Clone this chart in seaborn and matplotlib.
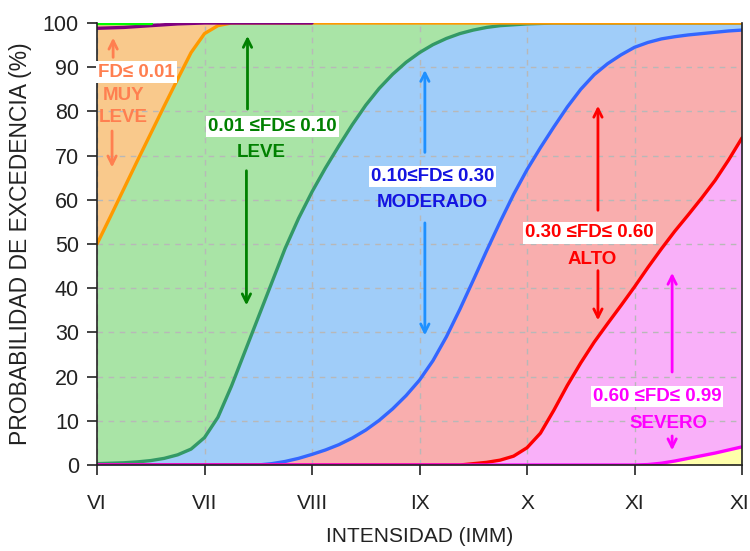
import numpy as np
import pandas as pd
import seaborn as sns
import matplotlib
matplotlib.use("Agg")
import matplotlib.pyplot as plt

# ---------------- data ----------------
intensity = [6.0, 6.125, 6.25, 6.375, 6.5, 6.625, 6.75, 6.875,
             7.0, 7.125, 7.25, 7.375, 7.5, 7.625, 7.75, 7.875,
             8.0, 8.125, 8.25, 8.375, 8.5, 8.625, 8.75, 8.875,
             9.0, 9.125, 9.25, 9.375, 9.5, 9.625, 9.75, 9.875,
             10.0, 10.125, 10.25, 10.375, 10.5, 10.625, 10.75, 10.875,
             11.0, 11.125, 11.25, 11.375, 11.5, 11.625, 11.75, 11.875, 12.0]
tick_labels = ["VI", "VII", "VIII", "IX", "X", "XI", "XII"]
tick_values = [6, 7, 8, 9, 10, 11, 12]

p_muy_leve = [50, 56.2, 62.5, 68.8, 75, 81.2, 87.3, 93.3,
              97.6, 99.4, 100, 100, 100, 100, 100, 100,
              100, 100, 100, 100, 100, 100, 100, 100,
              100, 100, 100, 100, 100, 100, 100, 100,
              100, 100, 100, 100, 100, 100, 100, 100,
              100, 100, 100, 100, 100, 100, 100, 100, 100]
p_leve = [0.3, 0.4, 0.5, 0.7, 1.0, 1.5, 2.3, 3.6,
          6.2, 10.8, 17.8, 25.6, 33.4, 41.2, 49.0, 55.8,
          61.8, 67.2, 72.2, 77.0, 81.4, 85.2, 88.4, 91.1,
          93.3, 95.1, 96.5, 97.6, 98.4, 99.0, 99.4, 99.6,
          99.8, 99.9, 100, 100, 100, 100, 100, 100,
          100, 100, 100, 100, 100, 100, 100, 100, 100]
p_moderado = [0, 0, 0, 0, 0, 0, 0, 0,
              0, 0, 0, 0, 0, 0.3, 0.8, 1.5,
              2.4, 3.4, 4.6, 6.1, 7.9, 10.1, 12.7, 15.7,
              19.2, 23.6, 29.0, 35.2, 41.8, 48.5, 55.0, 61.2,
              66.8, 71.8, 76.5, 81.0, 85.0, 88.3, 90.8, 92.8,
              94.5, 95.6, 96.4, 96.9, 97.3, 97.6, 97.9, 98.2, 98.4]
p_alto = [0, 0, 0, 0, 0, 0, 0, 0,
          0, 0, 0, 0, 0, 0, 0, 0,
          0, 0, 0, 0, 0, 0, 0, 0,
          0, 0, 0, 0, 0.3, 0.6, 1.1, 2.0,
          3.9, 7.2, 12.4, 18.0, 23.1, 27.8, 32.0, 36.1,
          40.3, 44.7, 48.9, 52.9, 56.6, 60.4, 64.4, 69.0, 74.0]
p_severo = [0, 0, 0, 0, 0, 0, 0, 0,
            0, 0, 0, 0, 0, 0, 0, 0,
            0, 0, 0, 0, 0, 0, 0, 0,
            0, 0, 0, 0, 0, 0, 0, 0,
            0, 0, 0, 0, 0, 0, 0, 0,
            0, 0.1, 0.4, 0.9, 1.5, 2.1, 2.7, 3.4, 4.1]
p_top_purple = [98.8, 98.9, 99.0, 99.2, 99.4, 99.6, 99.8, 99.9,
                100, 100, 100, 100, 100, 100, 100, 100, 100]
p_top_green = [100, 100, 100, 100, 100]

df = pd.DataFrame({"I": intensity, "muy": p_muy_leve, "leve": p_leve,
                   "mod": p_moderado, "alto": p_alto, "sev": p_severo})

# ---------------- style ----------------
sns.set_style("ticks")
plt.rcParams["font.family"] = ["Liberation Sans", "DejaVu Sans"]

fig = plt.figure(figsize=(7.5, 5.51), dpi=100)
ax = fig.add_axes([97 / 750, 86 / 551, 645 / 750, 442 / 551])

x = df["I"].values
fill_kw = dict(lw=0, zorder=1)
ax.fill_between(x, df["muy"], 100, color="#F9C98C", **fill_kw)
ax.fill_between(x, df["leve"], df["muy"], color="#A9E4A6", **fill_kw)
ax.fill_between(x, df["mod"], df["leve"], color="#A0CDF9", **fill_kw)
ax.fill_between(x, df["alto"], df["mod"], color="#F9AEAE", **fill_kw)
ax.fill_between(x, df["sev"], df["alto"], color="#F9B0F9", **fill_kw)
ax.fill_between(x, 0, df["sev"], color="#FFFFAA", **fill_kw)

lw = 2.4
sns.lineplot(data=df, x="I", y="leve", ax=ax, color="#339966", lw=lw, zorder=3)
sns.lineplot(data=df, x="I", y="mod", ax=ax, color="#3366FF", lw=lw, zorder=3)
sns.lineplot(data=df, x="I", y="alto", ax=ax, color="#FF0000", lw=lw, zorder=3)
sns.lineplot(data=df, x="I", y="muy", ax=ax, color="#FF9900", lw=lw, zorder=3.2)
sns.lineplot(data=df, x="I", y="sev", ax=ax, color="#FF00FF", lw=lw, zorder=3.3)
sns.lineplot(x=intensity[:len(p_top_purple)], y=p_top_purple, ax=ax,
             color="#800080", lw=lw, zorder=3.4)
sns.lineplot(x=intensity[:len(p_top_green)], y=p_top_green, ax=ax,
             color="#00FF00", lw=lw, zorder=3.5)

ax.set_xlim(6, 12)
ax.set_ylim(0, 100)
ax.set_xticks(tick_values)
ax.set_xticklabels(tick_labels)
ax.set_yticks(range(0, 101, 10))

ax.set_axisbelow(False)
ax.grid(True, color="#B8B8B8", linestyle=(0, (4, 4)), lw=1.0)

for s in ["left", "bottom", "right"]:
    ax.spines[s].set_color("#222222")
    ax.spines[s].set_linewidth(1.2)
    ax.spines[s].set_zorder(4)
ax.spines["top"].set_visible(False)

ax.tick_params(axis="both", direction="out", length=7, width=1.2, color="#222222")
ax.tick_params(axis="y", labelsize=15.5, labelcolor="#222222", pad=6)
ax.tick_params(axis="x", labelsize=15, labelcolor="#222222", pad=14)

ax.set_xlabel("INTENSIDAD (IMM)", fontsize=15, color="#222222", labelpad=10)
ax.set_ylabel("PROBABILIDAD DE EXCEDENCIA (%)", fontsize=16.5, color="#222222", labelpad=8)

# ---------------- annotations ----------------
def arrow(xp, y0, y1, color):
    ax.annotate("", xy=(xp, y1), xytext=(xp, y0),
                arrowprops=dict(arrowstyle="->,head_length=0.6,head_width=0.3",
                                color=color, lw=2),
                zorder=5)

def label(xp, yp, txt, color, box=True, size=13.5):
    kw = dict(ha="center", va="center", color=color, fontsize=size,
              fontweight="bold", zorder=6,
              family=["Liberation Sans", "DejaVu Sans"])
    if box:
        kw["bbox"] = dict(facecolor="white", edgecolor="none", pad=1.5)
    ax.text(xp, yp, txt, **kw)

c = "#FF7F50"
arrow(6.15, 91.6, 97.3, c)
label(6.37, 88.9, "FD≤ 0.01", c)
label(6.25, 83.7, "MUY", c, box=False)
label(6.24, 78.7, "LEVE", c, box=False)
arrow(6.14, 76.2, 66.7, c)

c = "#008000"
arrow(7.40, 79.9, 97.7, c)
label(7.63, 76.5, "0.01 ≤FD≤ 0.10", c)
label(7.53, 70.8, "LEVE", c, box=False)
arrow(7.39, 67.2, 35.5, c)

c = "#1E90FF"
arrow(9.05, 70.1, 90.0, c)
label(9.12, 65.2, "0.10≤FD≤ 0.30", "#1414E0")
label(9.12, 59.5, "MODERADO", "#1414E0", box=False)
arrow(9.05, 55.4, 28.7, c)

c = "#FF0000"
arrow(10.66, 57.0, 81.9, c)
label(10.58, 52.5, "0.30 ≤FD≤ 0.60", c)
label(10.61, 46.4, "ALTO", c, box=False)
arrow(10.66, 44.6, 32.1, c)

c = "#FF00FF"
arrow(11.35, 20.4, 44.1, c)
label(11.21, 15.4, "0.60 ≤FD≤ 0.99", c)
label(11.32, 9.5, "SEVERO", c, box=False)
arrow(11.35, 7.2, 2.7, c)

fig.savefig("out.png", dpi=100)
